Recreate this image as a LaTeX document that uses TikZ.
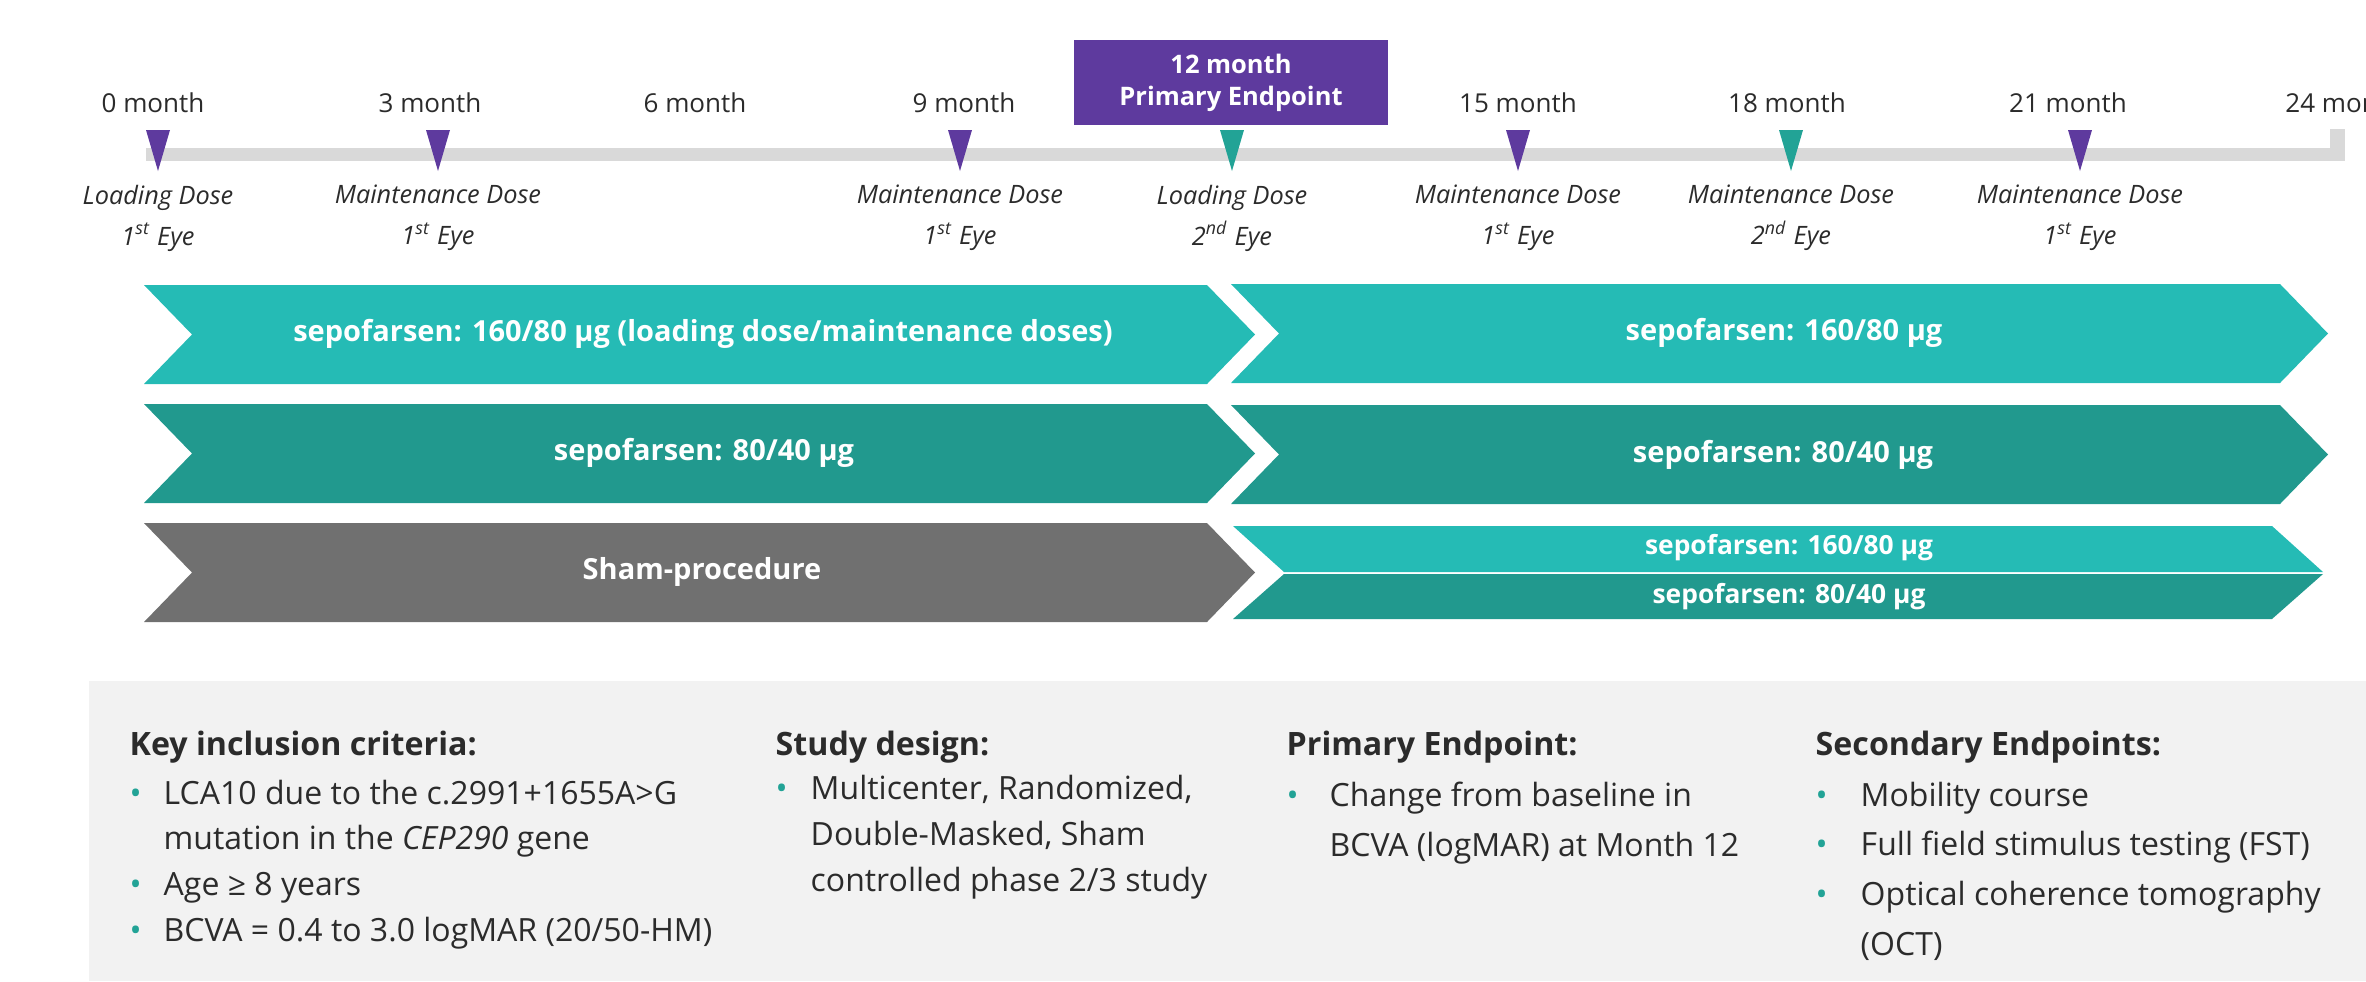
\documentclass[tikz,border=0pt]{standalone}
\usepackage{fontspec}
\setmainfont{Open Sans}
\usetikzlibrary{positioning}
\definecolor{SepTeal}{HTML}{25BBB5}
\definecolor{SepDeep}{HTML}{21998E}
\definecolor{MarkTeal}{HTML}{22A396}
\definecolor{ShamGray}{HTML}{707070}
\definecolor{EndPurple}{HTML}{5E3A9E}
\definecolor{AxisGray}{HTML}{D9D9D9}
\definecolor{PanelGray}{HTML}{F2F2F2}
\definecolor{TxtDark}{HTML}{2B2B2B}

% arm of the study: colour, left x, right x, top y, bottom y
\newcommand{\armshape}[5]{%
  \fill[#1] (#2,#4) -- (#3,#4) -- ({#3+48},{(#4+#5)/2}) -- (#3,#5)
    -- (#2,#5) -- ({#2+48},{(#4+#5)/2}) -- cycle;}
\newcommand{\bul}[1]{\makebox[#1][l]{\textcolor{MarkTeal}{\textbullet}}}

\begin{document}
\begin{tikzpicture}[x=0.01cm,y=-0.01cm,
  month/.style={font=\fontsize{7.4}{9}\selectfont, text=TxtDark, anchor=base},
  dose/.style={font=\fontsize{7.2}{11.7}\selectfont\itshape, text=TxtDark, align=center},
  armtext/.style={font=\fontsize{8.25}{10}\selectfont\bfseries, text=white},
  armsmall/.style={font=\fontsize{7.5}{9}\selectfont\bfseries, text=white},
  head/.style={font=\fontsize{9.15}{11}\selectfont\bfseries, text=TxtDark, anchor=base west, inner sep=0pt},
  body/.style={font=\fontsize{9.1}{#1}\selectfont, text=TxtDark, align=left, anchor=north west, inner sep=0pt},
  body/.default=13]
  \useasboundingbox (0,0) rectangle (2366,981);

  % time axis
  \fill[AxisGray] (146,148) rectangle (2345,161);
  \fill[AxisGray] (2330,129) rectangle (2345,161);
  \foreach \x/\m in {153/0,430/3,695/6,964/9,1518/15,1787/18,2068/21}{
     \node[month] (m\m) at (\x,112) {\m{} month};}
  \node[month, anchor=base west] (m24) at (2273,112) {24 month};
  \node[fill=EndPurple, text=white, font=\fontsize{7.25}{9.1}\selectfont\bfseries,
        align=center, minimum width=3.14cm, minimum height=0.85cm] (m12) at (1231,82.5)
        {12 month\\Primary Endpoint};

  % dosing markers
  \foreach \x/\c/\kind/\n/\sfx in {158/EndPurple/Loading/1/st, 438/EndPurple/Maintenance/1/st,
      960/EndPurple/Maintenance/1/st, 1232/MarkTeal/Loading/2/nd, 1518/EndPurple/Maintenance/1/st,
      1791/MarkTeal/Maintenance/2/nd, 2080/EndPurple/Maintenance/1/st}{
     \fill[\c] (\x-12,130) -- (\x+12,130) -- (\x,171) -- cycle;
     \node[dose] (d\x) at (\x,218) {\kind{} Dose\\\n\textsuperscript{\sfx} Eye};}

  % first year
  \armshape{SepTeal}{144}{1207}{285}{384}
  \armshape{SepDeep}{144}{1207}{404}{503}
  \armshape{ShamGray}{144}{1207}{523}{622}
  \node[armtext] (hi1) at (703,334) {sepofarsen: 160/80 µg (loading dose/maintenance doses)};
  \node[armtext] (lo1) at (704,453) {sepofarsen: 80/40 µg};
  \node[armtext] (sham) at (702,572) {Sham-procedure};

  % second year
  \armshape{SepTeal}{1231}{2280}{284}{383}
  \armshape{SepDeep}{1231}{2280}{405}{504}
  \fill[SepTeal] (1233,526) -- (2272,526) -- (2323,572) -- (1284,572) -- cycle;
  \fill[SepDeep] (1284,574) -- (2323,574) -- (2272,619) -- (1233,619) -- cycle;
  \node[armtext] (hi2) at (1784,333) {sepofarsen: 160/80 µg};
  \node[armtext] (lo2) at (1783,455) {sepofarsen: 80/40 µg};
  \node[armsmall] (hi3) at (1789,548) {sepofarsen: 160/80 µg};
  \node[armsmall] (lo3) at (1789,597) {sepofarsen: 80/40 µg};

  % study summary
  \fill[PanelGray] (89,681) rectangle (2366,981);
  \node[head] (keyhd) at (129,755) {Key inclusion criteria:};
  \node[body] (keyls) at (129,779) {\bul{.34cm}LCA10 due to the c.2991+1655A>G\\
     \hspace*{.34cm}mutation in the \textit{CEP290} gene\\
     \bul{.34cm}Age ≥ 8 years\\
     \bul{.34cm}BCVA = 0.4 to 3.0 logMAR (20/50-HM)};
  \node[head] (deshd) at (775,755) {Study design:};
  \node[body=13.2] (desls) at (775,774) {\bul{.35cm}Multicenter, Randomized,\\
     \hspace*{.35cm}Double-Masked, Sham\\
     \hspace*{.35cm}controlled phase 2/3 study};
  \node[head] (prihd) at (1286,755) {Primary Endpoint:};
  \node[body=14.2] (prils) at (1286,781) {\bul{.43cm}Change from baseline in\\
     \hspace*{.43cm}BCVA (logMAR) at Month 12};
  \node[head] (sechd) at (1815,755) {Secondary Endpoints:};
  \node[body=14.2] (secls) at (1815,781) {\bul{.45cm}Mobility course\\
     \bul{.45cm}Full field stimulus testing (FST)\\
     \bul{.45cm}Optical coherence tomography\\
     \hspace*{.45cm}(OCT)};
\end{tikzpicture}
\end{document}
